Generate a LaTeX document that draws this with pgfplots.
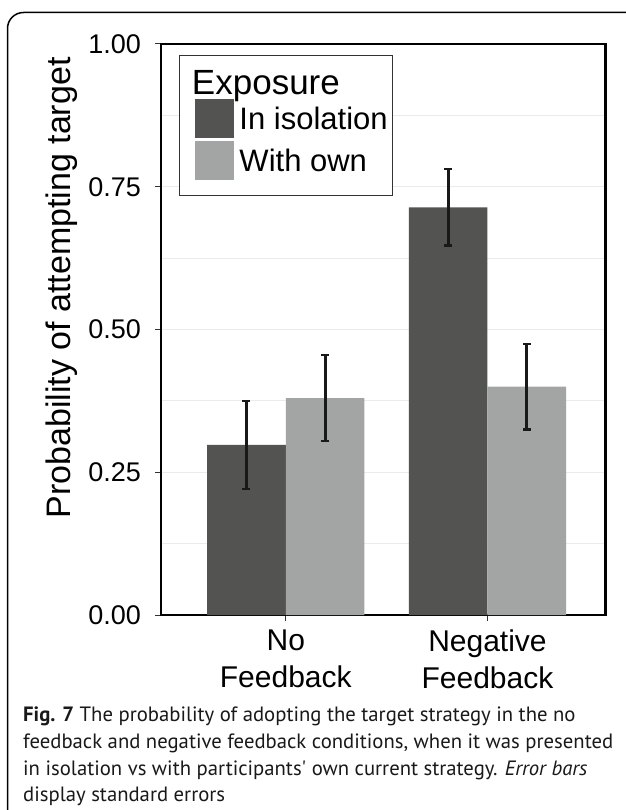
\documentclass[border=0pt]{standalone}
\usepackage{fontspec}
\setmainfont{Liberation Sans}
\newfontfamily\capfont{PT Sans}
\usepackage{pgfplots}
\pgfplotsset{compat=1.18}
\definecolor{darkbar}{RGB}{83,83,82}
\definecolor{lightbar}{RGB}{163,165,164}
\definecolor{gridc}{RGB}{235,235,235}
\begin{document}
\begin{tikzpicture}
\path[use as bounding box, fill=white] (0pt,0pt) rectangle (625pt,-810pt);
\draw[line width=1.5pt, rounded corners=16pt] (7.5pt,-12.5pt) rectangle (660pt,-860pt);
\begin{axis}[
  at={(160.7pt,-615pt)}, anchor=south west,
  scale only axis, width=444.8pt, height=571pt,
  xmin=-0.62, xmax=1.585, ymin=0, ymax=1,
  xtick={0,1}, xticklabels={{No\\Feedback},{Negative\\Feedback}},
  ytick={0,0.25,0.5,0.75,1}, yticklabels={0.00,0.25,0.50,0.75,1.00},
  minor ytick={0.125,0.375,0.625,0.875},
  ymajorgrids, yminorgrids,
  major grid style={gridc, line width=1.4pt},
  minor grid style={gridc, line width=0.9pt},
  minor tick length=0pt,
  tick align=outside, major tick length=5.5pt,
  xtick pos=bottom, ytick pos=left,
  tick style={black!80, line width=1pt},
  axis line style={black, line width=2.2pt},
  yticklabel style={font=\fontsize{27}{30}\selectfont, inner sep=0pt, anchor=east, xshift=-14pt},
  xticklabel style={font=\fontsize{30}{36.7}\selectfont, align=center, inner sep=0pt, anchor=north, yshift=-9pt},
  legend style={at={(rel axis cs:0.0418,0.9807)}, anchor=north west, draw=black!80, line width=1pt, fill=white,
    inner xsep=5pt, inner ysep=15pt, row sep=3pt, column sep=5pt, nodes={inner sep=0pt},
    font=\fontsize{31}{36}\selectfont},
  legend cell align=left,
]
\addlegendimage{empty legend}
\addlegendentry{\hspace{-47.5pt}\fontsize{35}{40}\selectfont Exposure}
\addplot[ybar, bar width=0.39, bar shift=0pt, fill=darkbar, draw=none,
  legend image code/.code={\fill[darkbar] (10.7pt,-19pt) rectangle (49.7pt,20pt); \pgfsetbaseline{-11pt}},
  error bars/.cd, y dir=both, y explicit,
  error bar style={line width=3pt, black!90},
  error mark options={rotate=90, line width=2.5pt, mark size=4pt, black!90}]
  table[x=x, y=y, y error=e] {
x y e
-0.195 0.298 0.077
0.805 0.714 0.067
};
\addlegendentry{In isolation}
\addplot[ybar, bar width=0.39, bar shift=0pt, fill=lightbar, draw=none,
  legend image code/.code={\fill[lightbar] (10.7pt,-19pt) rectangle (49.7pt,20pt); \pgfsetbaseline{-11pt}},
  error bars/.cd, y dir=both, y explicit,
  error bar style={line width=3pt, black!90},
  error mark options={rotate=90, line width=2.5pt, mark size=4pt, black!90}]
  table[x=x, y=y, y error=e] {
x y e
0.195 0.380 0.075
1.195 0.400 0.075
};
\addlegendentry{With own}
\end{axis}
\node[rotate=90, anchor=center, inner sep=0pt, font=\fontsize{34}{40}\selectfont] at (62pt,-288pt) {Probability of attempting target};
\begin{scope}[every node/.style={anchor=base west, inner sep=0pt, font=\capfont\fontsize{20.7}{24}\selectfont, color=black!90}]
\node at (23pt,-721pt) {\textbf{Fig. 7} The probability of adopting the target strategy in the no};
\node at (23pt,-748pt) {feedback and negative feedback conditions, when it was presented};
\node at (23pt,-775pt) {in isolation vs with participants' own current strategy. \textit{Error bars}};
\node at (23pt,-801pt) {display standard errors};
\end{scope}
\end{tikzpicture}
\end{document}
